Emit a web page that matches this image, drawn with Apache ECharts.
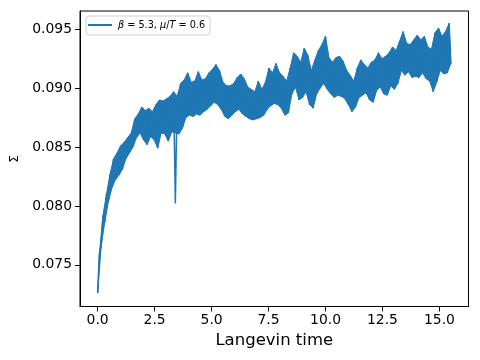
<!DOCTYPE html>
<html>
<head>
<meta charset="utf-8">
<script src="https://cdn.jsdelivr.net/npm/echarts@6/dist/echarts.min.js"></script>
<style>
  html, body { margin: 0; padding: 0; background: #fff; }
  #chart { width: 480px; height: 360px; }
</style>
</head>
<body>
<div id="chart"></div>
<script>
// Langevin time grid: 201 samples from 0 to 15.5
const timeStep = 0.0775
// Sigma: after the first sample, odd entries follow the
// upper edge of the noisy band and even entries the lower edge
const sigma = [
  0.0726, 0.0760, 0.0766, 0.0792, 0.0786, 0.0810, 0.0803, 0.0827, 0.0815, 0.0840,
  0.0822, 0.0845, 0.0826, 0.0851, 0.0831, 0.0854, 0.0840, 0.0858, 0.0845, 0.0862,
  0.0850, 0.0874, 0.0858, 0.0878, 0.0862, 0.0884, 0.0856, 0.0881, 0.0852, 0.0883,
  0.0859, 0.0880, 0.0856, 0.0886, 0.0849, 0.0890, 0.0862, 0.0889, 0.0861, 0.0891,
  0.0855, 0.0893, 0.0863, 0.0897, 0.0802, 0.0893, 0.0861, 0.0904, 0.0866, 0.0907,
  0.0875, 0.0913, 0.0877, 0.0905, 0.0876, 0.0906, 0.0878, 0.0914, 0.0877, 0.0907,
  0.0880, 0.0908, 0.0882, 0.0913, 0.0885, 0.0916, 0.0888, 0.0920, 0.0886, 0.0915,
  0.0882, 0.0905, 0.0876, 0.0902, 0.0874, 0.0902, 0.0877, 0.0904, 0.0880, 0.0909,
  0.0882, 0.0912, 0.0878, 0.0908, 0.0876, 0.0901, 0.0874, 0.0899, 0.0873, 0.0897,
  0.0874, 0.0906, 0.0875, 0.0899, 0.0877, 0.0905, 0.0882, 0.0917, 0.0885, 0.0913,
  0.0887, 0.0921, 0.0886, 0.0913, 0.0883, 0.0910, 0.0877, 0.0906, 0.0879, 0.0917,
  0.0895, 0.0930, 0.0901, 0.0927, 0.0890, 0.0922, 0.0892, 0.0934, 0.0897, 0.0928,
  0.0886, 0.0915, 0.0883, 0.0924, 0.0895, 0.0932, 0.0900, 0.0937, 0.0904, 0.0944,
  0.0899, 0.0926, 0.0895, 0.0922, 0.0892, 0.0926, 0.0894, 0.0927, 0.0893, 0.0923,
  0.0891, 0.0915, 0.0886, 0.0911, 0.0880, 0.0906, 0.0884, 0.0917, 0.0892, 0.0924,
  0.0894, 0.0920, 0.0896, 0.0917, 0.0890, 0.0922, 0.0888, 0.0924, 0.0898, 0.0930,
  0.0901, 0.0925, 0.0895, 0.0927, 0.0894, 0.0930, 0.0902, 0.0935, 0.0899, 0.0932,
  0.0904, 0.0940, 0.0915, 0.0948, 0.0911, 0.0938, 0.0914, 0.0937, 0.0909, 0.0941,
  0.0910, 0.0945, 0.0909, 0.0941, 0.0913, 0.0944, 0.0908, 0.0935, 0.0906, 0.0933,
  0.0897, 0.0947, 0.0905, 0.0951, 0.0915, 0.0944, 0.0912, 0.0948, 0.0913, 0.0955,
  0.0921
]
const xTicks = [0, 2.5, 5, 7.5, 10, 12.5, 15]
const yTicks = [0.075, 0.080, 0.085, 0.090, 0.095]
const seriesName = 'β = 5.3, μ/T = 0.6'
const lineColor = '#1f77b4'

const points = sigma.map((v, i) => [i * timeStep, v])

const chart = echarts.init(document.getElementById('chart'), null, { renderer: 'canvas' })

// the real trace is far denser than what can be read off the picture,
// so the band between the upper and lower samples is filled as well.
// a lone drop (the glitch near t=3.4) is left to the line itself
const renderBand = (params, api) => {
  const upper = []
  const lower = []
  points.forEach((p, i) => {
    if (i % 2 === 1) {
      upper.push(api.coord(p))
      return
    }
    const prev = points[i - 2]
    const next = points[i + 2]
    if (prev && next && p[1] < prev[1] - 0.003 && p[1] < next[1] - 0.003) return
    lower.push(api.coord(p))
  })
  return {
    type: 'polygon',
    shape: { points: upper.concat(lower.reverse()) },
    style: { fill: lineColor, stroke: lineColor, lineWidth: 1 }
  }
}

chart.setOption({
  animation: false,
  textStyle: { fontFamily: 'DejaVu Sans' },
  grid: {
    left: 80,
    right: 11.5,
    top: 11,
    bottom: 53.5,
    show: true,
    borderColor: '#000',
    borderWidth: 1,
    outerBoundsMode: 'none'
  },
  legend: {
    data: [seriesName],
    left: 86,
    top: 16,
    padding: [4, 5, 5, 2],
    borderColor: '#d0d0d0',
    borderWidth: 1,
    borderRadius: 3,
    icon: 'rect',
    itemWidth: 24,
    itemHeight: 2,
    formatter: () => '{i|β} = 5.3, {i|μ}/{i|T} = 0.6',
    textStyle: {
      color: '#000',
      fontSize: 9.7,
      fontFamily: 'DejaVu Sans',
      padding: [0, 0, 0, 1],
      rich: {
        i: { fontStyle: 'italic', fontSize: 9.7, fontFamily: 'DejaVu Sans', color: '#000' }
      }
    }
  },
  xAxis: {
    type: 'value',
    min: -0.775,
    max: 16.275,
    name: 'Langevin time',
    nameLocation: 'middle',
    nameGap: 26,
    nameTextStyle: { color: '#000', fontSize: 16.5, fontFamily: 'DejaVu Sans' },
    splitLine: { show: false },
    axisLine: { onZero: false, lineStyle: { color: '#000', width: 1 } },
    axisTick: { show: true, length: 5, customValues: xTicks, lineStyle: { color: '#000' } },
    axisLabel: {
      customValues: xTicks,
      margin: 7,
      color: '#000',
      fontSize: 13.9,
      formatter: v => v.toFixed(1)
    }
  },
  yAxis: {
    type: 'value',
    min: 0.07146,
    max: 0.09655,
    name: 'Σ',
    nameLocation: 'middle',
    nameGap: 59,
    nameRotate: 90,
    nameTextStyle: { color: '#000', fontSize: 11.5, fontFamily: 'DejaVu Sans' },
    splitLine: { show: false },
    axisLine: { show: true, onZero: false, lineStyle: { color: '#000', width: 1 } },
    axisTick: { show: true, length: 5, customValues: yTicks, lineStyle: { color: '#000' } },
    axisLabel: {
      customValues: yTicks,
      margin: 8,
      color: '#000',
      fontSize: 13.9,
      formatter: v => v.toFixed(3)
    }
  },
  series: [
    {
      type: 'custom',
      silent: true,
      clip: true,
      data: [points[0]],
      renderItem: renderBand,
      z: 1
    },
    {
      name: seriesName,
      type: 'line',
      data: points,
      symbol: 'none',
      clip: true,
      lineStyle: { width: 1.5, color: lineColor },
      itemStyle: { color: lineColor },
      z: 2
    }
  ]
})
</script>
</body>
</html>
